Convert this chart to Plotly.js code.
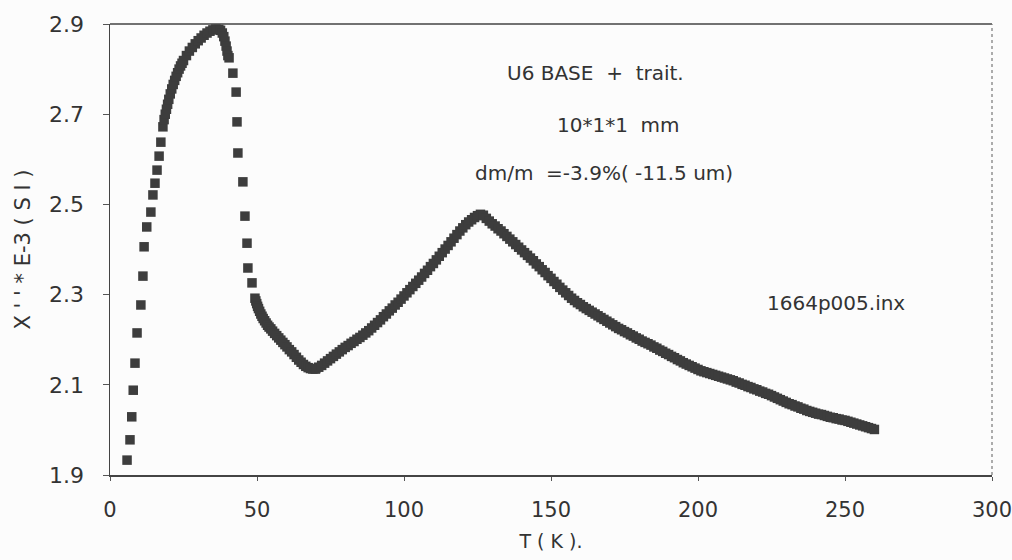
<!DOCTYPE html>
<html>
<head>
<meta charset="utf-8">
<script src="https://cdn.plot.ly/plotly-3.0.1.min.js"></script>
<style>html,body{margin:0;padding:0;background:#fcfcfc;}#chart{width:1012px;height:560px;}</style>
</head>
<body>
<div id="chart"></div>
<script>
// Temperature (K) and susceptibility X'' * E-3 (SI)
const temperatureK = [
  5.8, 6.8, 7.4, 7.9, 8.5, 9.2, 10.5, 11.2, 11.6, 12.5, 13.9,
  14.6, 15.3, 16.0, 16.7, 17.3, 18.0,
  18.4, 18.8, 19.2, 19.6, 20, 20.5, 21, 21.5, 22, 22.5, 23, 23.5, 24, 24.5, 25, 26, 27, 28, 29, 30,
  31, 32, 33, 34, 35, 36, 37, 37.6, 38.2, 38.7, 39.1, 39.5, 39.8, 40.1,
  40.5, 41.8, 42.9, 43.2, 43.5, 45.2, 45.9, 46.6, 46.9, 48.3,
  49.3, 49.6, 49.9, 50.2, 50.5, 50.9, 51.3, 51.7, 52.1, 52.6, 53.1, 53.6, 54.1, 54.7, 55.3, 56, 56.7,
  57.4, 58.1, 58.8, 59.5, 60.2, 61, 61.8, 62.6, 63.4, 64.2, 65, 65.8, 66.6, 67.4, 68.2, 69, 69.8,
  70, 71, 72, 73, 74, 75, 76, 77, 78, 79, 80, 81, 82, 83, 84, 85, 86, 87, 88, 89, 90,
  91, 92, 93, 94, 95, 96, 97, 98, 99, 100, 101, 102, 103, 104, 105, 106, 107, 108, 109, 110,
  111, 112, 113, 114, 115, 116, 117, 118, 119, 120, 121, 122, 123, 124, 125, 126, 127,
  128, 129, 130, 131, 132, 133, 134, 135, 136, 137, 138, 139, 140, 141, 142, 143, 144, 145, 146, 147,
  148, 149, 150, 151, 152, 153, 154, 155, 156, 157, 158, 159, 160, 161, 162, 163, 164, 165, 166, 167,
  168, 169, 170, 171, 172, 173, 174, 175, 176, 177, 178, 179, 180, 181, 182, 183, 184, 185, 186, 187,
  188, 189, 190, 191, 192, 193, 194, 195, 196, 197, 198, 199, 200, 201, 202, 203, 204, 205, 206, 207,
  208, 209, 210, 211, 212, 213, 214, 215, 216, 217, 218, 219, 220, 221, 222, 223, 224, 225, 226, 227,
  228, 229, 230, 231, 232, 233, 234, 235, 236, 237, 238, 239, 240, 241, 242, 243, 244, 245, 246, 247,
  248, 249, 250, 251, 252, 253, 254, 255, 256, 257, 258, 259, 260
];
const chiE3 = [
  1.933, 1.978, 2.029, 2.088, 2.148, 2.215, 2.277, 2.341, 2.406, 2.450, 2.483,
  2.521, 2.547, 2.576, 2.607, 2.638, 2.672,
  2.688, 2.700, 2.711, 2.722, 2.733, 2.745, 2.756, 2.766, 2.775, 2.784, 2.792, 2.800, 2.807, 2.813, 2.819, 2.830, 2.840, 2.848, 2.856, 2.863,
  2.869, 2.875, 2.880, 2.884, 2.887, 2.889, 2.888, 2.886, 2.880, 2.872, 2.862, 2.851, 2.840, 2.830,
  2.825, 2.791, 2.749, 2.683, 2.614, 2.550, 2.474, 2.414, 2.359, 2.326,
  2.292, 2.286, 2.280, 2.274, 2.269, 2.263, 2.257, 2.252, 2.247, 2.242, 2.237, 2.232, 2.228, 2.224, 2.219, 2.214, 2.209,
  2.204, 2.199, 2.194, 2.189, 2.184, 2.178, 2.173, 2.167, 2.161, 2.155, 2.150, 2.145, 2.141, 2.138, 2.136, 2.135, 2.135,
  2.136, 2.139, 2.143, 2.148, 2.153, 2.158, 2.163, 2.168, 2.173, 2.178, 2.183, 2.187, 2.192, 2.196, 2.201, 2.205, 2.210, 2.215, 2.220, 2.226, 2.232,
  2.238, 2.244, 2.251, 2.257, 2.264, 2.270, 2.277, 2.283, 2.290, 2.297, 2.304, 2.311, 2.318, 2.325, 2.332, 2.339, 2.347, 2.354, 2.362, 2.369,
  2.377, 2.385, 2.393, 2.401, 2.409, 2.417, 2.425, 2.433, 2.441, 2.448, 2.455, 2.461, 2.466, 2.471, 2.475, 2.478, 2.476,
  2.469, 2.463, 2.457, 2.452, 2.446, 2.441, 2.435, 2.429, 2.423, 2.417, 2.411, 2.405, 2.399, 2.393, 2.387, 2.381, 2.375, 2.368, 2.362, 2.355,
  2.349, 2.342, 2.336, 2.329, 2.323, 2.316, 2.310, 2.304, 2.298, 2.292, 2.287, 2.282, 2.278, 2.273, 2.269, 2.265, 2.261, 2.257, 2.253, 2.249,
  2.245, 2.241, 2.237, 2.233, 2.229, 2.225, 2.222, 2.218, 2.215, 2.211, 2.208, 2.204, 2.201, 2.197, 2.194, 2.191, 2.188, 2.184, 2.181, 2.177,
  2.174, 2.170, 2.167, 2.163, 2.160, 2.156, 2.153, 2.149, 2.146, 2.143, 2.140, 2.137, 2.134, 2.131, 2.129, 2.127, 2.125, 2.123, 2.121, 2.119,
  2.117, 2.115, 2.113, 2.111, 2.109, 2.106, 2.104, 2.101, 2.099, 2.096, 2.094, 2.091, 2.089, 2.086, 2.084, 2.081, 2.079, 2.076, 2.073, 2.070,
  2.067, 2.064, 2.061, 2.058, 2.056, 2.053, 2.051, 2.048, 2.046, 2.043, 2.041, 2.039, 2.037, 2.035, 2.034, 2.032, 2.030, 2.028, 2.027, 2.025,
  2.024, 2.022, 2.021, 2.019, 2.017, 2.015, 2.013, 2.011, 2.009, 2.007, 2.005, 2.003, 2.001
];
const xTicks = [0, 50, 100, 150, 200, 250, 300];
const yTicks = [1.9, 2.1, 2.3, 2.5, 2.7, 2.9];
const yTickText = ["1.9", "2.1", "2.3", "2.5", "2.7", "2.9"];
const notes = [
  {text: "U6 BASE  +  trait.", x: 165.3, y: 2.791},
  {text: "10*1*1  mm", x: 172.8, y: 2.676},
  {text: "dm/m  =-3.9%( -11.5 um)", x: 168, y: 2.570},
  {text: "1664p005.inx", x: 247, y: 2.281}
];

const ink = "#333333";
const font = {family: "DejaVu Sans, Arial, sans-serif", color: ink};

const trace = {
  x: temperatureK, y: chiE3, type: "scatter", mode: "markers",
  marker: {symbol: "square", size: 9.5, color: "#3d3d3d", line: {width: 0}},
  hoverinfo: "x+y", showlegend: false
};

const layout = {
  width: 1012, height: 560,
  margin: {l: 110, r: 20, t: 24, b: 85, pad: 0},
  paper_bgcolor: "#fcfcfc", plot_bgcolor: "#fcfcfc",
  font: font,
  xaxis: {
    range: [0, 300], tickvals: xTicks, ticktext: xTicks.map(String),
    showgrid: false, zeroline: false, showline: true, linecolor: "#444", linewidth: 1.5,
    mirror: false, ticks: "outside", ticklen: 4, tickcolor: "#555", tickwidth: 1,
    ticklabelstandoff: 11, ticklabeloverflow: "allow",
    tickfont: {family: font.family, size: 21, color: ink},
    title: {text: "T ( K ).", font: {family: font.family, size: 19, color: ink}, standoff: 14}
  },
  xaxis2: {
    overlaying: "x", anchor: "y", side: "bottom", range: [0, 300], tickvals: xTicks,
    showticklabels: false, showgrid: false, zeroline: false, showline: false,
    ticks: "inside", ticklen: 4, tickcolor: "#555", tickwidth: 1
  },
  yaxis: {
    range: [1.9, 2.9], tickvals: yTicks, ticktext: yTickText,
    showgrid: false, zeroline: false, showline: true, linecolor: "#444", linewidth: 1.5,
    ticks: "outside", ticklen: 6, tickcolor: "#555", tickwidth: 1,
    ticklabelstandoff: 14, ticklabeloverflow: "allow",
    tickfont: {family: font.family, size: 22, color: ink},
    title: {text: "X ' ' * E-3 ( S I )", font: {family: font.family, size: 21, color: ink}, standoff: 12}
  },
  yaxis2: {
    overlaying: "y", anchor: "x", side: "left", range: [1.9, 2.9], tickvals: yTicks,
    showticklabels: false, showgrid: false, zeroline: false, showline: false,
    ticks: "inside", ticklen: 6, tickcolor: "#555", tickwidth: 1
  },
  shapes: [
    {type: "line", xref: "paper", yref: "paper", x0: 0, x1: 1, y0: 1, y1: 1, line: {color: "#444", width: 1.5}},
    {type: "line", xref: "paper", yref: "paper", x0: 1, x1: 1, y0: 0, y1: 1, line: {color: "#777", width: 1.2, dash: "dot"}}
  ],
  annotations: notes.map(n => ({
    text: n.text, x: n.x, y: n.y, xref: "x", yref: "y", showarrow: false,
    xanchor: "center", yanchor: "middle", font: {family: font.family, size: 20, color: ink}
  }))
};

Plotly.newPlot("chart", [trace], layout, {displayModeBar: false, staticPlot: true});
</script>
</body>
</html>
